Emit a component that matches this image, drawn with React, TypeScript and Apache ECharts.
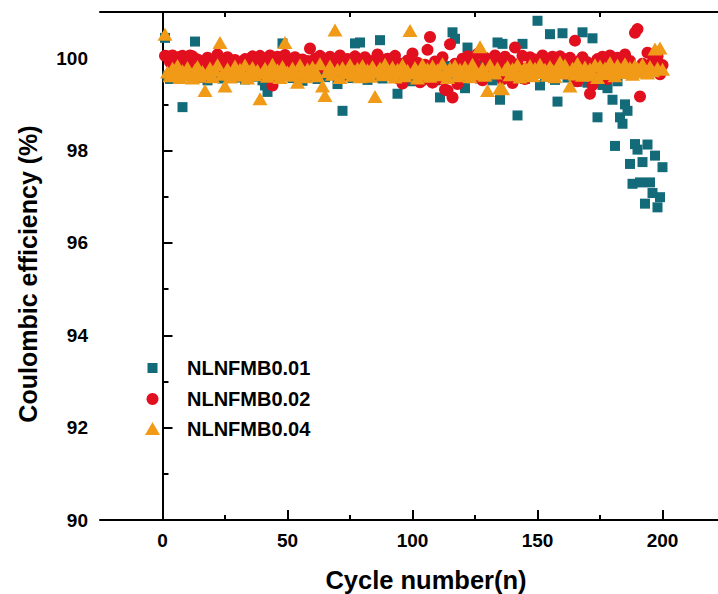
import React, { useEffect, useRef } from "react";
import * as echarts from "echarts";

const seriesNames = ["NLNFMB0.01", "NLNFMB0.02", "NLNFMB0.04"];
const seriesColors = ["#136A78", "#E2101F", "#F09A18"];

const cycles: number[] = Array.from({ length: 200 }, (_, i) => i + 1);

const ce001: number[] = [
  100.44, 99.62, 99.55, 99.71, 99.83, 99.58, 99.66, 98.94, 99.74, 99.61,
  99.80, 99.69, 100.36, 99.57, 99.75, 99.64, 99.88, 99.52, 99.70, 99.79,
  99.63, 99.84, 99.72, 99.56, 99.67, 99.90, 99.61, 99.73, 99.58, 99.81,
  99.69, 99.76, 99.54, 99.85, 99.66, 99.60, 99.78, 99.71, 99.63, 99.52,
  99.41, 99.27, 99.68, 99.80, 99.59, 99.74, 99.65, 100.32, 99.83, 99.62,
  99.70, 99.57, 99.86, 99.64, 99.75, 99.51, 99.79, 99.68, 99.60, 99.88,
  99.73, 99.55, 99.82, 99.66, 99.59, 99.77, 99.70, 99.63, 99.85, 99.44,
  99.69, 98.86, 99.74, 99.61, 99.80, 99.57, 100.32, 99.72, 100.34, 99.64,
  99.78, 99.53, 99.87, 99.67, 99.60, 99.75, 100.39, 99.56, 99.82, 99.69,
  99.62, 99.79, 99.71, 99.23, 99.58, 99.84, 99.66, 99.74, 99.50, 99.77,
  99.63, 99.86, 99.70, 99.55, 99.81, 99.68, 99.60, 99.76, 99.52, 99.73,
  99.15, 99.65, 99.83, 99.58, 99.71, 100.56, 100.42, 99.62, 99.79, 99.54,
  99.35, 100.23, 99.67, 99.80, 99.61, 99.74, 99.56, 99.85, 99.69, 99.63,
  99.77, 99.52, 99.72, 100.34, 99.10, 100.31, 99.66, 99.81, 99.59, 99.70,
  99.64, 98.76, 99.78, 100.31, 99.55, 99.73, 99.62, 99.84, 99.68, 100.81,
  99.41, 99.75, 99.60, 99.82, 100.52, 99.66, 99.53, 99.06, 99.77, 100.54,
  99.70, 99.58, 99.85, 99.64, 99.72, 99.49, 99.80, 100.56, 99.61, 99.47,
  99.74, 100.43, 99.55, 98.72, 99.68, 99.42, 99.79, 99.35, 99.60, 99.10,
  98.10, 99.50, 98.72, 98.58, 99.00, 98.86, 97.71, 97.28, 98.14, 98.02,
  97.31, 97.75, 96.85, 98.13, 97.31, 97.08, 97.89, 96.77, 96.99, 97.64,
];

const ce002: number[] = [
  100.05, 100.04, 99.92, 100.06, 99.88, 99.95, 100.03, 100.05, 99.90, 100.02,
  100.06, 100.04, 99.85, 99.97, 99.80, 99.93, 99.87, 100.01, 99.62, 99.89,
  99.95, 100.08, 99.78, 99.91, 99.84, 100.02, 99.74, 99.88, 99.96, 99.81,
  99.90, 99.73, 99.98, 99.86, 99.79, 100.04, 99.92, 99.83, 100.05, 99.88,
  99.96, 99.77, 100.06, 99.41, 99.87, 100.03, 99.80, 99.93, 100.07, 99.85,
  99.91, 99.76, 100.02, 99.88, 99.82, 99.97, 99.71, 99.94, 100.21, 99.86,
  99.99, 99.79, 100.05, 99.84, 99.92, 99.75, 100.03, 99.87, 99.95, 99.78,
  100.06, 99.89, 99.81, 99.98, 99.72, 99.93, 100.04, 99.85, 99.90, 99.77,
  100.02, 99.86, 99.94, 99.69, 99.91, 100.08, 99.80, 99.96, 99.83, 99.99,
  99.74, 99.92, 100.05, 99.57, 99.88, 99.45, 99.79, 99.95, 99.84, 100.10,
  99.66, 99.90, 99.48, 99.52, 99.86, 100.18, 100.46, 99.47, 99.93, 99.82,
  99.55, 100.02, 99.32, 99.30, 100.30, 99.15, 99.88, 99.44, 99.63, 99.99,
  99.81, 100.04, 99.70, 99.94, 99.86, 100.09, 99.58, 99.52, 100.01, 99.76,
  99.97, 99.84, 100.06, 99.68, 99.89, 99.54, 100.03, 99.80, 99.95, 99.46,
  100.23, 99.87, 99.62, 100.05, 99.55, 99.79, 100.02, 99.85, 99.97, 99.71,
  99.94, 100.06, 99.81, 99.99, 99.88, 100.03, 99.76, 99.92, 100.04, 99.83,
  99.97, 99.66, 100.01, 99.87, 100.38, 99.50, 99.95, 100.02, 99.84, 99.91,
  99.23, 99.42, 99.86, 99.98, 99.74, 100.03, 99.89, 99.55, 100.06, 99.93,
  99.85, 100.01, 99.70, 99.96, 100.08, 99.82, 99.94, 99.75, 100.55, 100.63,
  99.17, 99.88, 99.78, 100.12, 99.69, 99.92, 99.81, 100.04, 99.65, 99.85,
];

const ce004: number[] = [
  100.52, 99.70, 99.62, 99.78, 99.66, 99.84, 99.58, 99.73, 99.64, 99.80,
  99.69, 99.57, 99.75, 99.82, 99.61, 99.71, 99.30, 99.67, 99.79, 99.60,
  99.74, 99.86, 100.34, 99.65, 99.40, 99.77, 99.59, 99.70, 99.83, 99.63,
  99.76, 99.68, 99.85, 99.57, 99.72, 99.80, 99.64, 99.74, 99.12, 99.69,
  99.78, 99.61, 99.73, 99.87, 99.66, 99.75, 99.58, 99.82, 100.34, 99.70,
  99.63, 99.79, 99.68, 99.48, 99.85, 99.72, 99.60, 99.77, 99.67, 99.81,
  99.74, 99.62, 99.88, 99.40, 99.19, 99.71, 99.83, 99.65, 100.61, 99.76,
  99.58, 99.80, 99.69, 99.74, 99.86, 99.63, 99.72, 99.78, 99.60, 99.84,
  99.67, 99.75, 99.61, 99.82, 99.17, 99.70, 99.79, 99.64, 99.87, 99.73,
  99.66, 99.81, 99.59, 99.76, 99.70, 99.85, 99.62, 99.74, 100.60, 99.68,
  99.80, 99.57, 99.72, 99.86, 99.65, 99.77, 99.61, 99.83, 99.70, 99.75,
  99.64, 99.88, 99.69, 99.58, 99.79, 99.73, 99.84, 99.62, 99.76, 99.67,
  99.81, 99.70, 99.60, 99.87, 99.74, 99.66, 100.25, 99.78, 99.63, 99.30,
  99.85, 99.71, 99.68, 99.79, 99.36, 99.34, 99.75, 99.82, 99.64, 99.77,
  99.70, 99.86, 99.59, 99.73, 99.80, 99.66, 99.84, 99.62, 99.78, 99.71,
  99.87, 99.69, 99.76, 99.63, 99.82, 99.74, 99.60, 99.79, 99.92, 99.68,
  99.85, 99.72, 99.40, 99.78, 99.66, 99.89, 99.75, 99.63, 99.81, 99.70,
  99.77, 99.64, 99.86, 99.58, 99.83, 99.71, 99.79, 99.67, 99.90, 99.74,
  99.62, 99.85, 99.76, 99.69, 99.88, 99.73, 99.80, 99.65, 99.84, 99.78,
  99.70, 99.87, 99.75, 99.68, 99.82, 99.73, 100.20, 99.79, 100.22, 99.76,
];

const xMajorTicks = [0, 50, 100, 150, 200];
const xMinorTicks = [25, 75, 125, 175];
const yMajorTicks = [90, 92, 94, 96, 98, 100];
const yMinorTicks = [91, 93, 95, 97, 99];

const xTitle = "Cycle number(n)";
const yTitle = "Coulombic efficiency (%)";

const FONT = "'Liberation Sans', Arial, sans-serif";

export default function App() {
  const ref = useRef<HTMLDivElement>(null);

  useEffect(() => {
    if (!ref.current) return;
    const chart = echarts.init(ref.current, undefined, { renderer: "svg" });
    const axisLine = { show: true, lineStyle: { color: "#000", width: 2 } };
    const labelStyle = { color: "#000", fontFamily: FONT, fontWeight: "bold" as const, fontSize: 19 };
    const xBase = { type: "value" as const, min: -25, max: 225, splitLine: { show: false } };
    const yBase = { type: "value" as const, min: 90, max: 101, interval: 2, splitLine: { show: false } };
    const allSeries = [ce001, ce002, ce004];
    const symbols = ["rect", "circle", "triangle"];
    const sizes: any[] = [10, 12, [15, 13]];

    const legendRows = [368, 399, 429];

    chart.setOption({
      animation: false,
      backgroundColor: "#fff",
      grid: { left: 100, top: 12, width: 625, height: 508, containLabel: false, outerBoundsMode: "none" },
      xAxis: [
        {
          ...xBase,
          position: "bottom",
          axisLine,
          axisTick: { show: true, inside: true, length: 10, lineStyle: { color: "#000", width: 2 }, customValues: xMajorTicks },
          axisLabel: { ...labelStyle, margin: 11, customValues: xMajorTicks },
          name: xTitle,
          nameLocation: "middle",
          nameGap: 47,
          nameTextStyle: { color: "#000", fontFamily: FONT, fontWeight: "bold", fontSize: 25.5, padding: [0, 0, 0, 27] },
        },
        {
          ...xBase,
          position: "bottom",
          axisLine: { show: false },
          axisTick: { show: true, inside: true, length: 5, lineStyle: { color: "#000", width: 2 }, customValues: xMinorTicks },
          axisLabel: { show: false },
        },
        {
          ...xBase,
          position: "top",
          axisLine,
          axisTick: { show: true, inside: true, length: 5, lineStyle: { color: "#000", width: 2 }, customValues: xMinorTicks },
          axisLabel: { show: false },
        },
      ],
      yAxis: [
        {
          ...yBase,
          position: "left",
          axisLine,
          axisTick: { show: true, inside: true, length: 10, lineStyle: { color: "#000", width: 2 }, customValues: yMajorTicks },
          axisLabel: { ...labelStyle, margin: 12, customValues: yMajorTicks },
          name: yTitle,
          nameLocation: "middle",
          nameGap: 60,
          nameTextStyle: { color: "#000", fontFamily: FONT, fontWeight: "bold", fontSize: 25, padding: [0, 16, 0, 0] },
        },
        {
          ...yBase,
          position: "left",
          axisLine: { show: false },
          axisTick: { show: true, inside: true, length: 6, lineStyle: { color: "#000", width: 2 }, customValues: yMinorTicks },
          axisLabel: { show: false },
        },
      ],
      series: allSeries.map((vals, i) => ({
        name: seriesNames[i],
        type: "scatter",
        xAxisIndex: 0,
        yAxisIndex: 0,
        symbol: symbols[i],
        symbolSize: sizes[i],
        itemStyle: { color: seriesColors[i], opacity: 1 },
        data: cycles.map((c, j) => [c, vals[j]]),
      })),
      graphic: [
        { type: "rect", shape: { x: 147.5, y: legendRows[0] - 5, width: 10, height: 10 }, style: { fill: seriesColors[0] } },
        { type: "circle", shape: { cx: 152.5, cy: legendRows[1], r: 6 }, style: { fill: seriesColors[1] } },
        {
          type: "polygon",
          shape: { points: [[152.5, legendRows[2] - 7], [160, legendRows[2] + 6], [145, legendRows[2] + 6]] },
          style: { fill: seriesColors[2] },
        },
        ...seriesNames.map((n, i) => ({
          type: "text",
          x: 187,
          y: legendRows[i],
          style: {
            text: n,
            fill: "#000",
            font: `bold 20px ${FONT}`,
            verticalAlign: "middle",
            align: "left",
          },
        })),
      ],
    });
    return () => chart.dispose();
  }, []);

  return (
    <div
      ref={ref}
      style={{ position: "fixed", left: 0, top: 0, width: 718, height: 594, background: "#fff" }}
    />
  );
}
